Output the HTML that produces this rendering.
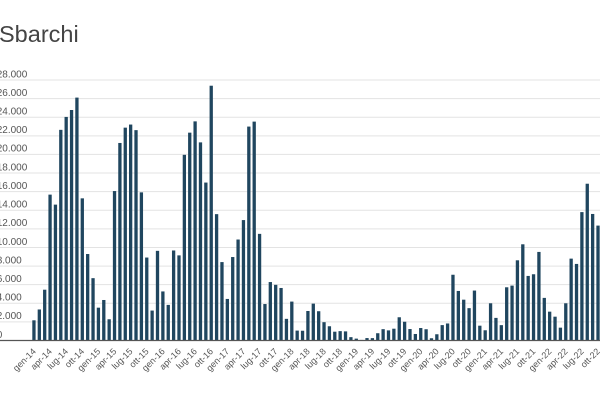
<!DOCTYPE html>
<html>
<head>
<meta charset="utf-8">
<style>
  html, body { margin:0; padding:0; background:#ffffff; }
  body { width:600px; height:400px; overflow:hidden; }
  svg { display:block; }
  .yl { font-family:"Liberation Sans", sans-serif; font-size:10px; fill:#555; }
  .xl { font-family:"Liberation Sans", sans-serif; font-size:9px; fill:#555; }
</style>
</head>
<body>
<svg width="600" height="400" viewBox="0 0 600 400" xmlns="http://www.w3.org/2000/svg">
  <rect x="0" y="0" width="600" height="400" fill="#ffffff"/>
  <text x="-1" y="42" font-family="Liberation Sans, sans-serif" font-size="23.5" fill="#444">Sbarchi</text>

  <!-- gridlines -->
  <g stroke="#e3e3e3" stroke-width="1">
    <line x1="0" x2="600" y1="321.89" y2="321.89"/>
    <line x1="0" x2="600" y1="303.29" y2="303.29"/>
    <line x1="0" x2="600" y1="284.68" y2="284.68"/>
    <line x1="0" x2="600" y1="266.07" y2="266.07"/>
    <line x1="0" x2="600" y1="247.47" y2="247.47"/>
    <line x1="0" x2="600" y1="228.86" y2="228.86"/>
    <line x1="0" x2="600" y1="210.25" y2="210.25"/>
    <line x1="0" x2="600" y1="191.64" y2="191.64"/>
    <line x1="0" x2="600" y1="173.04" y2="173.04"/>
    <line x1="0" x2="600" y1="154.43" y2="154.43"/>
    <line x1="0" x2="600" y1="135.82" y2="135.82"/>
    <line x1="0" x2="600" y1="117.21" y2="117.21"/>
    <line x1="0" x2="600" y1="98.61" y2="98.61"/>
    <line x1="0" x2="600" y1="80" y2="80"/>
  </g>

  <!-- y labels -->
  <g class="yl">
    <text x="-3.3" y="337.8">0</text>
    <text x="-3.3" y="319.2">2.000</text>
    <text x="-3.3" y="300.6">4.000</text>
    <text x="-3.3" y="282.0">6.000</text>
    <text x="-3.3" y="263.4">8.000</text>
    <text x="-3.3" y="244.8">10.000</text>
    <text x="-3.3" y="226.2">12.000</text>
    <text x="-3.3" y="207.6">14.000</text>
    <text x="-3.3" y="189.0">16.000</text>
    <text x="-3.3" y="170.3">18.000</text>
    <text x="-3.3" y="151.7">20.000</text>
    <text x="-3.3" y="133.1">22.000</text>
    <text x="-3.3" y="114.5">24.000</text>
    <text x="-3.3" y="95.9">26.000</text>
    <text x="-3.3" y="77.3">28.000</text>
  </g>

  <!-- bars -->
  <g transform="translate(32.3,340.5) scale(5.372,-0.009304)" fill="#20465f">
    <rect x="0" y="0" width="0.614" height="2171"/>
    <rect x="1" y="0" width="0.614" height="3335"/>
    <rect x="2" y="0" width="0.614" height="5459"/>
    <rect x="3" y="0" width="0.614" height="15679"/>
    <rect x="4" y="0" width="0.614" height="14604"/>
    <rect x="5" y="0" width="0.614" height="22641"/>
    <rect x="6" y="0" width="0.614" height="24031"/>
    <rect x="7" y="0" width="0.614" height="24774"/>
    <rect x="8" y="0" width="0.614" height="26107"/>
    <rect x="9" y="0" width="0.614" height="15279"/>
    <rect x="10" y="0" width="0.614" height="9295"/>
    <rect x="11" y="0" width="0.614" height="6700"/>
    <rect x="12" y="0" width="0.614" height="3528"/>
    <rect x="13" y="0" width="0.614" height="4354"/>
    <rect x="14" y="0" width="0.614" height="2283"/>
    <rect x="15" y="0" width="0.614" height="16063"/>
    <rect x="16" y="0" width="0.614" height="21231"/>
    <rect x="17" y="0" width="0.614" height="22877"/>
    <rect x="18" y="0" width="0.614" height="23210"/>
    <rect x="19" y="0" width="0.614" height="22610"/>
    <rect x="20" y="0" width="0.614" height="15922"/>
    <rect x="21" y="0" width="0.614" height="8916"/>
    <rect x="22" y="0" width="0.614" height="3218"/>
    <rect x="23" y="0" width="0.614" height="9636"/>
    <rect x="24" y="0" width="0.614" height="5273"/>
    <rect x="25" y="0" width="0.614" height="3828"/>
    <rect x="26" y="0" width="0.614" height="9676"/>
    <rect x="27" y="0" width="0.614" height="9149"/>
    <rect x="28" y="0" width="0.614" height="19957"/>
    <rect x="29" y="0" width="0.614" height="22339"/>
    <rect x="30" y="0" width="0.614" height="23552"/>
    <rect x="31" y="0" width="0.614" height="21294"/>
    <rect x="32" y="0" width="0.614" height="16975"/>
    <rect x="33" y="0" width="0.614" height="27384"/>
    <rect x="34" y="0" width="0.614" height="13581"/>
    <rect x="35" y="0" width="0.614" height="8428"/>
    <rect x="36" y="0" width="0.614" height="4467"/>
    <rect x="37" y="0" width="0.614" height="8971"/>
    <rect x="38" y="0" width="0.614" height="10853"/>
    <rect x="39" y="0" width="0.614" height="12943"/>
    <rect x="40" y="0" width="0.614" height="22993"/>
    <rect x="41" y="0" width="0.614" height="23526"/>
    <rect x="42" y="0" width="0.614" height="11461"/>
    <rect x="43" y="0" width="0.614" height="3920"/>
    <rect x="44" y="0" width="0.614" height="6282"/>
    <rect x="45" y="0" width="0.614" height="5984"/>
    <rect x="46" y="0" width="0.614" height="5645"/>
    <rect x="47" y="0" width="0.614" height="2327"/>
    <rect x="48" y="0" width="0.614" height="4182"/>
    <rect x="49" y="0" width="0.614" height="1065"/>
    <rect x="50" y="0" width="0.614" height="1049"/>
    <rect x="51" y="0" width="0.614" height="3171"/>
    <rect x="52" y="0" width="0.614" height="3963"/>
    <rect x="53" y="0" width="0.614" height="3147"/>
    <rect x="54" y="0" width="0.614" height="1969"/>
    <rect x="55" y="0" width="0.614" height="1531"/>
    <rect x="56" y="0" width="0.614" height="947"/>
    <rect x="57" y="0" width="0.614" height="1007"/>
    <rect x="58" y="0" width="0.614" height="980"/>
    <rect x="59" y="0" width="0.614" height="359"/>
    <rect x="60" y="0" width="0.614" height="202"/>
    <rect x="61" y="0" width="0.614" height="60"/>
    <rect x="62" y="0" width="0.614" height="262"/>
    <rect x="63" y="0" width="0.614" height="255"/>
    <rect x="64" y="0" width="0.614" height="782"/>
    <rect x="65" y="0" width="0.614" height="1218"/>
    <rect x="66" y="0" width="0.614" height="1088"/>
    <rect x="67" y="0" width="0.614" height="1268"/>
    <rect x="68" y="0" width="0.614" height="2498"/>
    <rect x="69" y="0" width="0.614" height="2016"/>
    <rect x="70" y="0" width="0.614" height="1232"/>
    <rect x="71" y="0" width="0.614" height="700"/>
    <rect x="72" y="0" width="0.614" height="1342"/>
    <rect x="73" y="0" width="0.614" height="1211"/>
    <rect x="74" y="0" width="0.614" height="241"/>
    <rect x="75" y="0" width="0.614" height="671"/>
    <rect x="76" y="0" width="0.614" height="1654"/>
    <rect x="77" y="0" width="0.614" height="1831"/>
    <rect x="78" y="0" width="0.614" height="7067"/>
    <rect x="79" y="0" width="0.614" height="5326"/>
    <rect x="80" y="0" width="0.614" height="4387"/>
    <rect x="81" y="0" width="0.614" height="3477"/>
    <rect x="82" y="0" width="0.614" height="5368"/>
    <rect x="83" y="0" width="0.614" height="1592"/>
    <rect x="84" y="0" width="0.614" height="1100"/>
    <rect x="85" y="0" width="0.614" height="4000"/>
    <rect x="86" y="0" width="0.614" height="2430"/>
    <rect x="87" y="0" width="0.614" height="1650"/>
    <rect x="88" y="0" width="0.614" height="5720"/>
    <rect x="89" y="0" width="0.614" height="5900"/>
    <rect x="90" y="0" width="0.614" height="8620"/>
    <rect x="91" y="0" width="0.614" height="10340"/>
    <rect x="92" y="0" width="0.614" height="6940"/>
    <rect x="93" y="0" width="0.614" height="7120"/>
    <rect x="94" y="0" width="0.614" height="9520"/>
    <rect x="95" y="0" width="0.614" height="4580"/>
    <rect x="96" y="0" width="0.614" height="3100"/>
    <rect x="97" y="0" width="0.614" height="2560"/>
    <rect x="98" y="0" width="0.614" height="1380"/>
    <rect x="99" y="0" width="0.614" height="4000"/>
    <rect x="100" y="0" width="0.614" height="8800"/>
    <rect x="101" y="0" width="0.614" height="8230"/>
    <rect x="102" y="0" width="0.614" height="13800"/>
    <rect x="103" y="0" width="0.614" height="16850"/>
    <rect x="104" y="0" width="0.614" height="13600"/>
    <rect x="105" y="0" width="0.614" height="12350"/>
    <rect x="106" y="0" width="0.614" height="14284"/>
  </g>

  <!-- axis baseline -->
  <line x1="0" x2="600" y1="340.5" y2="340.5" stroke="#555" stroke-width="1.2"/>

  <!-- x labels -->
  <g class="xl" text-anchor="end">
    <text transform="translate(36.5,352) rotate(-45)">gen-14</text>
    <text transform="translate(52.6,352) rotate(-45)">apr-14</text>
    <text transform="translate(68.7,352) rotate(-45)">lug-14</text>
    <text transform="translate(84.8,352) rotate(-45)">ott-14</text>
    <text transform="translate(100.9,352) rotate(-45)">gen-15</text>
    <text transform="translate(117.0,352) rotate(-45)">apr-15</text>
    <text transform="translate(133.2,352) rotate(-45)">lug-15</text>
    <text transform="translate(149.3,352) rotate(-45)">ott-15</text>
    <text transform="translate(165.4,352) rotate(-45)">gen-16</text>
    <text transform="translate(181.5,352) rotate(-45)">apr-16</text>
    <text transform="translate(197.6,352) rotate(-45)">lug-16</text>
    <text transform="translate(213.7,352) rotate(-45)">ott-16</text>
    <text transform="translate(229.8,352) rotate(-45)">gen-17</text>
    <text transform="translate(246.0,352) rotate(-45)">apr-17</text>
    <text transform="translate(262.1,352) rotate(-45)">lug-17</text>
    <text transform="translate(278.2,352) rotate(-45)">ott-17</text>
    <text transform="translate(294.3,352) rotate(-45)">gen-18</text>
    <text transform="translate(310.4,352) rotate(-45)">apr-18</text>
    <text transform="translate(326.5,352) rotate(-45)">lug-18</text>
    <text transform="translate(342.7,352) rotate(-45)">ott-18</text>
    <text transform="translate(358.8,352) rotate(-45)">gen-19</text>
    <text transform="translate(374.9,352) rotate(-45)">apr-19</text>
    <text transform="translate(391.0,352) rotate(-45)">lug-19</text>
    <text transform="translate(407.1,352) rotate(-45)">ott-19</text>
    <text transform="translate(423.2,352) rotate(-45)">gen-20</text>
    <text transform="translate(439.4,352) rotate(-45)">apr-20</text>
    <text transform="translate(455.5,352) rotate(-45)">lug-20</text>
    <text transform="translate(471.6,352) rotate(-45)">ott-20</text>
    <text transform="translate(487.7,352) rotate(-45)">gen-21</text>
    <text transform="translate(503.8,352) rotate(-45)">apr-21</text>
    <text transform="translate(519.9,352) rotate(-45)">lug-21</text>
    <text transform="translate(536.0,352) rotate(-45)">ott-21</text>
    <text transform="translate(552.2,352) rotate(-45)">gen-22</text>
    <text transform="translate(568.3,352) rotate(-45)">apr-22</text>
    <text transform="translate(584.4,352) rotate(-45)">lug-22</text>
    <text transform="translate(600.5,352) rotate(-45)">ott-22</text>
  </g>
</svg>
</body>
</html>
